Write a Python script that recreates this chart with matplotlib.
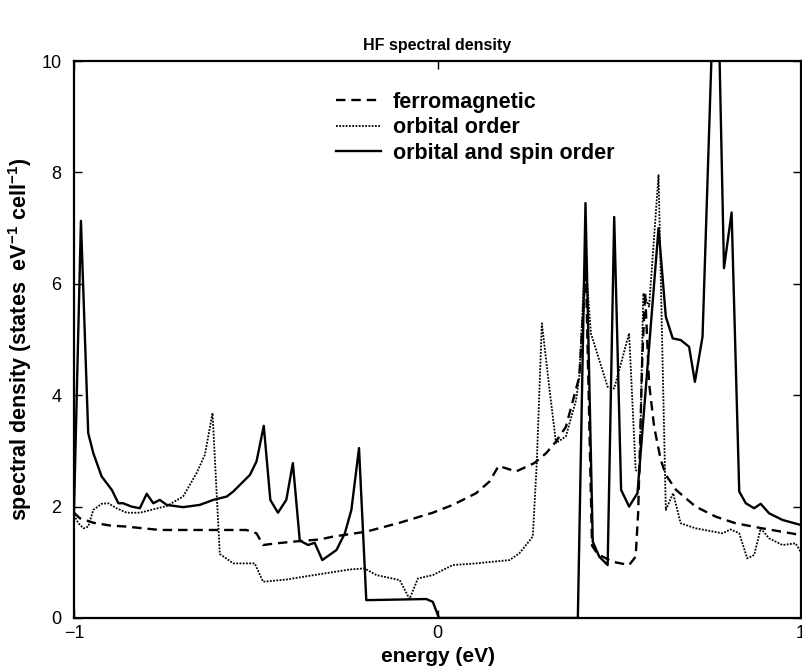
import matplotlib
matplotlib.use("Agg")
import matplotlib.pyplot as plt

plt.rcParams["font.family"] = ["Liberation Sans", "DejaVu Sans"]
plt.rcParams["mathtext.fontset"] = "custom"
plt.rcParams["mathtext.rm"] = "Liberation Sans:bold"
plt.rcParams["mathtext.bf"] = "Liberation Sans:bold"
plt.rcParams["mathtext.default"] = "bf"

# ferromagnetic (dashed)
ferro_x = [-1.0, -0.984, -0.947, -0.901, -0.855, -0.810, -0.764, -0.718, -0.599, -0.526,
           -0.498, -0.480, -0.443, -0.398, -0.324, -0.288, -0.196, -0.104, -0.013, 0.042,
           0.106, 0.143, 0.168, 0.216, 0.266, 0.299, 0.326, 0.353, 0.390, 0.408,
           0.425, 0.440, 0.481, 0.527, 0.545, 0.552, 0.563, 0.571, 0.582, 0.596,
           0.614, 0.628, 0.656, 0.710, 0.765, 0.820, 0.893, 0.999]
ferro_y = [1.89, 1.79, 1.71, 1.66, 1.64, 1.61, 1.58, 1.58, 1.58, 1.58,
           1.52, 1.31, 1.34, 1.37, 1.41, 1.46, 1.55, 1.71, 1.89, 2.03,
           2.24, 2.45, 2.73, 2.63, 2.78, 2.96, 3.17, 3.43, 4.33, 6.3,
           1.3, 1.15, 1.01, 0.95, 1.10, 1.90, 4.6, 5.85, 4.21, 3.43,
           2.84, 2.57, 2.30, 2.00, 1.82, 1.70, 1.61, 1.49]

# orbital order (dotted)
orb_x = [-1.0, -0.988, -0.974, -0.961, -0.947, -0.924, -0.906, -0.883, -0.855, -0.819,
         -0.782, -0.745, -0.700, -0.663, -0.640, -0.619, -0.599, -0.562, -0.503, -0.480,
         -0.416, -0.379, -0.242, -0.201, -0.168, -0.104, -0.077, -0.054, -0.013, 0.042,
         0.106, 0.198, 0.225, 0.262, 0.273, 0.287, 0.310, 0.326, 0.353, 0.381,
         0.390, 0.406, 0.422, 0.445, 0.468, 0.486, 0.527, 0.545, 0.556, 0.566,
         0.582, 0.608, 0.628, 0.648, 0.669, 0.710, 0.784, 0.806, 0.830, 0.852,
         0.871, 0.889, 0.912, 0.949, 0.985, 0.999]
orb_y = [1.85, 1.70, 1.61, 1.64, 1.94, 2.05, 2.06, 1.97, 1.89, 1.89,
         1.95, 2.01, 2.18, 2.60, 2.93, 3.68, 1.15, 0.98, 0.98, 0.65,
         0.69, 0.73, 0.87, 0.89, 0.77, 0.68, 0.34, 0.71, 0.77, 0.95,
         0.98, 1.04, 1.16, 1.46, 2.78, 5.29, 4.0, 3.14, 3.26, 3.91,
         4.33, 6.5, 5.11, 4.63, 4.15, 4.12, 5.11, 2.66, 2.60, 5.83,
         5.59, 7.95, 1.94, 2.24, 1.70, 1.61, 1.52, 1.59, 1.52, 1.07,
         1.13, 1.61, 1.43, 1.31, 1.34, 1.19]

# orbital and spin order (solid)
spin_x = [-1.0, -0.981, -0.961, -0.947, -0.924, -0.896, -0.878, -0.865, -0.842, -0.819,
          -0.800, -0.782, -0.764, -0.745, -0.700, -0.654, -0.617, -0.580, -0.562, -0.539,
          -0.516, -0.498, -0.478, -0.460, -0.439, -0.416, -0.398, -0.379, -0.356, -0.338,
          -0.317, -0.278, -0.255, -0.237, -0.216, -0.196, -0.031, -0.013, 0.004, 0.386,
          0.386, 0.407, 0.427, 0.445, 0.468, 0.486, 0.505, 0.527, 0.550, 0.608,
          0.628, 0.647, 0.669, 0.692, 0.708, 0.729, 0.767, 0.788, 0.809, 0.830,
          0.848, 0.871, 0.889, 0.912, 0.949, 0.999]
spin_y = [1.94, 7.13, 3.32, 2.96, 2.54, 2.30, 2.06, 2.06, 2.00, 1.97,
          2.23, 2.06, 2.12, 2.03, 1.99, 2.03, 2.12, 2.18, 2.27, 2.42,
          2.57, 2.81, 3.45, 2.12, 1.89, 2.12, 2.78, 1.39, 1.31, 1.35,
          1.04, 1.22, 1.52, 1.94, 3.05, 0.32, 0.34, 0.29, 0.0, 0.0,
          0.0, 7.45, 1.37, 1.10, 0.95, 7.20, 2.30, 2.00, 2.24, 7.00,
          5.41, 5.02, 4.99, 4.87, 4.24, 5.05, 12.8, 6.28, 7.28, 2.27,
          2.06, 1.97, 2.05, 1.88, 1.76, 1.67]

fig = plt.figure(figsize=(8.02, 6.72), dpi=100)
ax = fig.add_axes([0.0923, 0.0804, 0.9065, 0.8288])

ax.plot(ferro_x, ferro_y, color="black", lw=1.7, ls=(0, (4, 2.5)), label="ferromagnetic")
ax.plot(orb_x, orb_y, color="black", lw=1.3, ls=(0, (1, 0.8)), label="orbital order")
ax.plot(spin_x, spin_y, color="black", lw=1.7, ls="-", label="orbital and spin order")

ax.set_xlim(-1, 1)
ax.set_ylim(0, 10)
ax.set_xticks([-1, 0, 1])
ax.set_yticks([0, 2, 4, 6, 8, 10])
ax.tick_params(direction="in", top=True, right=True, length=6, width=1,
               labelsize=13)
ax.tick_params(axis="y", pad=9)
ax.tick_params(axis="x", pad=5)
for s in ax.spines.values():
    s.set_linewidth(1.6)

ax.set_title("HF spectral density", fontsize=11.5, fontweight="bold", pad=8)
ax.set_xlabel("energy (eV)", fontsize=15, fontweight="bold", labelpad=4)
ax.set_ylabel(r"spectral density (states  eV$^{-1}$ cell$^{-1}$)", fontsize=15.5,
              fontweight="bold", labelpad=5)

ax.legend(loc="upper left", bbox_to_anchor=(0.348, 0.96), frameon=False,
          handlelength=2.1, handletextpad=0.55, labelspacing=0.2,
          prop={"weight": "bold", "size": 15.5}, borderaxespad=0)

fig.savefig("out.png", dpi=100)
